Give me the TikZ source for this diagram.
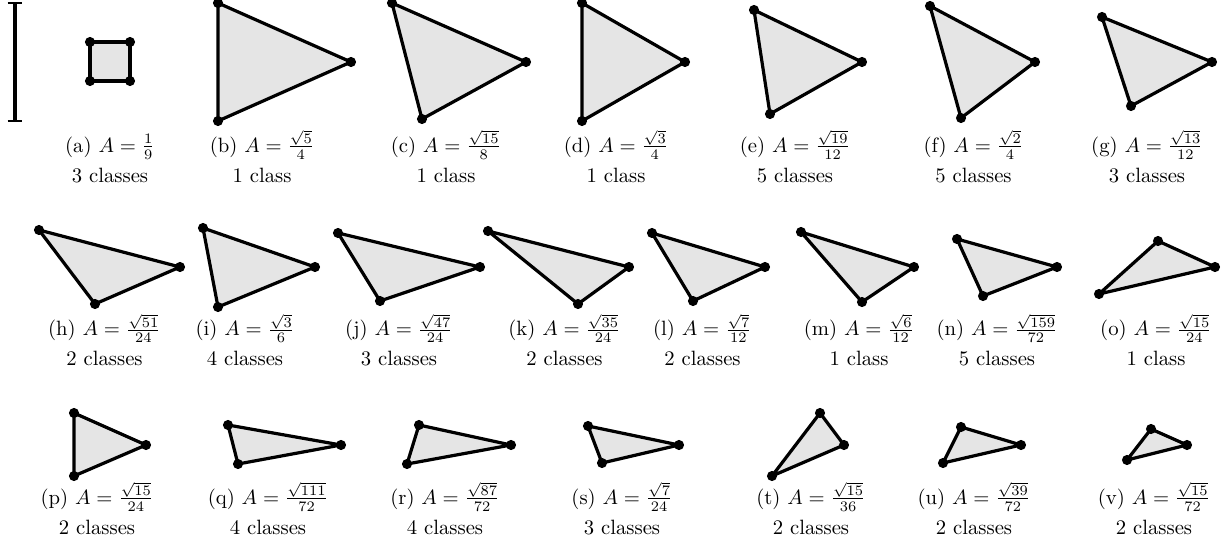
\documentclass[tikz,border=0pt]{standalone}
\tikzset{
  tri/.style={draw=black, fill=gray!20, line width=1.55pt, line join=round},
  vdot/.style={circle, fill=black, inner sep=0pt, minimum size=4.9pt},
  captxt/.style={anchor=base, inner sep=0pt},
  bar/.style={draw=black, line width=1.7pt},
  tickline/.style={draw=black, line width=1.1pt}
}
\newcommand{\mytri}[4]{%
  \coordinate (#1-1) at (#2); \coordinate (#1-2) at (#3); \coordinate (#1-3) at (#4);
  \draw[tri] (#1-1) -- (#1-2) -- (#1-3) -- cycle;
  \node[vdot] (#1-d1) at (#1-1) {};
  \node[vdot] (#1-d2) at (#1-2) {};
  \node[vdot] (#1-d3) at (#1-3) {};
}
\newcommand{\mycap}[5]{% name, x, baseline1, text1, text2
  \node[captxt] (#1-c1) at (#2,#3) {#4};
  \node[captxt] (#1-c2) at (#2,#3+30) {#5};
}
\begin{document}
\begin{tikzpicture}[x=0.483pt, y=-0.483pt]
\useasboundingbox (0,0) rectangle (1228,544);
% scale bar
\coordinate (sb1) at (15,3);
\coordinate (sb2) at (15,121);
\draw[bar] (sb1) -- (sb2);
\draw[tickline] ([xshift=-3.6pt]sb1) -- ([xshift=3.6pt]sb1);
\draw[tickline] ([xshift=-3.6pt]sb2) -- ([xshift=3.6pt]sb2);
% (a) square
\coordinate (a-1) at (90,42); \coordinate (a-2) at (130,42);
\coordinate (a-3) at (130,81); \coordinate (a-4) at (90,81);
\draw[tri] (a-1) -- (a-2) -- (a-3) -- (a-4) -- cycle;
\node[vdot] (a-d1) at (a-1) {}; \node[vdot] (a-d2) at (a-2) {};
\node[vdot] (a-d3) at (a-3) {}; \node[vdot] (a-d4) at (a-4) {};
\mycap{a}{110}{152}{(a) $A=\frac{1}{9}$}{3 classes}
% row 1
\mytri{b}{218,3}{351,62}{218,121}
\mycap{b}{262}{152}{(b) $A=\frac{\sqrt{5}}{4}$}{1 class}
\mytri{c}{392,3}{526,62}{422,119}
\mycap{c}{446}{152}{(c) $A=\frac{\sqrt{15}}{8}$}{1 class}
\mytri{d}{582,3}{685,62}{582,121}
\mycap{d}{616}{152}{(d) $A=\frac{\sqrt{3}}{4}$}{1 class}
\mytri{e}{754,10}{862,62}{770,114}
\mycap{e}{795}{152}{(e) $A=\frac{\sqrt{19}}{12}$}{5 classes}
\mytri{f}{930,6}{1035,62}{961,118}
\mycap{f}{973.5}{152}{(f) $A=\frac{\sqrt{2}}{4}$}{5 classes}
\mytri{g}{1102,17}{1212,62}{1131,106}
\mycap{g}{1147}{152}{(g) $A=\frac{\sqrt{13}}{12}$}{3 classes}
% row 2
\mytri{h}{39,230}{180,267}{95,304}
\mycap{h}{104.5}{335.5}{(h) $A=\frac{\sqrt{51}}{24}$}{2 classes}
\mytri{i}{203,228}{315,267}{218,307}
\mycap{i}{245}{335.5}{(i) $A=\frac{\sqrt{3}}{6}$}{4 classes}
\mytri{j}{338,233}{480,267}{380,301}
\mycap{j}{399}{335.5}{(j) $A=\frac{\sqrt{47}}{24}$}{3 classes}
\mytri{k}{488,231}{629,267}{578,304}
\mycap{k}{564.5}{335.5}{(k) $A=\frac{\sqrt{35}}{24}$}{2 classes}
\mytri{l}{652,233}{765,267}{693,301}
\mycap{l}{702.5}{335.5}{(l) $A=\frac{\sqrt{7}}{12}$}{2 classes}
\mytri{m}{801,232}{914,267}{862,302}
\mycap{m}{859}{335.5}{(m) $A=\frac{\sqrt{6}}{12}$}{1 class}
\mytri{n}{957,239}{1057,267}{983,296}
\mycap{n}{997}{335.5}{(n) $A=\frac{\sqrt{159}}{72}$}{5 classes}
\mytri{o}{1158,241}{1215,267}{1099,294}
\mycap{o}{1156}{335.5}{(o) $A=\frac{\sqrt{15}}{24}$}{1 class}
% row 3
\mytri{p}{74,413}{146,445}{74,476}
\mycap{p}{97}{504}{(p) $A=\frac{\sqrt{15}}{24}$}{2 classes}
\mytri{q}{228,425}{341,445}{238,464}
\mycap{q}{268}{504}{(q) $A=\frac{\sqrt{111}}{72}$}{4 classes}
\mytri{r}{419,425}{511,445}{407,464}
\mycap{r}{445}{504}{(r) $A=\frac{\sqrt{87}}{72}$}{4 classes}
\mytri{s}{588,426}{679,445}{602,463}
\mycap{s}{622}{504}{(s) $A=\frac{\sqrt{7}}{24}$}{3 classes}
\mytri{t}{820,413}{844,445}{772,476}
\mycap{t}{811}{504}{(t) $A=\frac{\sqrt{15}}{36}$}{2 classes}
\mytri{u}{961,427}{1021,445}{943,463}
\mycap{u}{974}{504}{(u) $A=\frac{\sqrt{39}}{72}$}{2 classes}
\mytri{v}{1151,429}{1187,445}{1127,460}
\mycap{v}{1154}{504}{(v) $A=\frac{\sqrt{15}}{72}$}{2 classes}
\end{tikzpicture}
\end{document}
